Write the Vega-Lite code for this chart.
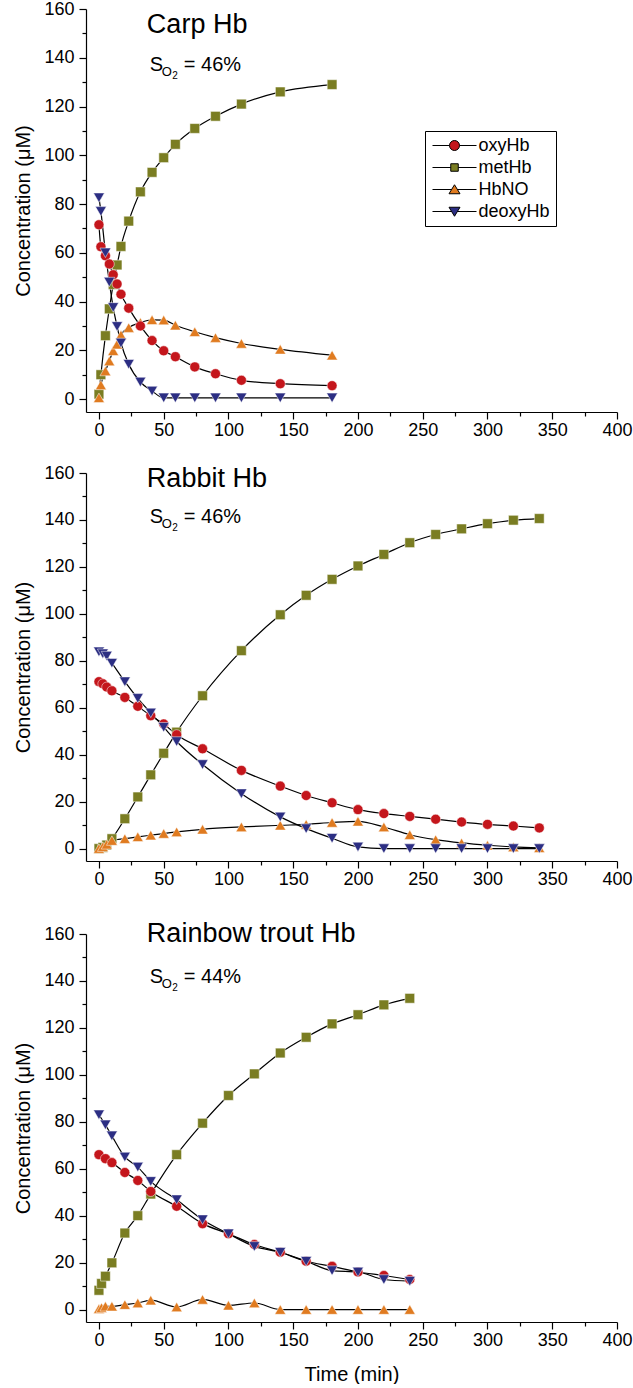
{
  "$schema": "https://vega.github.io/schema/vega-lite/v6.json",
  "padding": {"left": 13, "top": 0, "right": 0, "bottom": 0},
  "datasets": {
    "carp": [
      {"s":"oxyHb","t":0,"c":71.5},{"s":"oxyHb","t":1.5,"c":62.5},{"s":"oxyHb","t":5,"c":58.8},{"s":"oxyHb","t":8,"c":55.4},{"s":"oxyHb","t":11,"c":51},{"s":"oxyHb","t":14,"c":47.2},{"s":"oxyHb","t":17,"c":43},{"s":"oxyHb","t":23,"c":37.3},{"s":"oxyHb","t":32,"c":30},{"s":"oxyHb","t":41,"c":24},{"s":"oxyHb","t":50,"c":19.8},{"s":"oxyHb","t":59,"c":17.4},{"s":"oxyHb","t":74,"c":13.2},{"s":"oxyHb","t":90,"c":10.4},{"s":"oxyHb","t":110,"c":7.7},{"s":"oxyHb","t":140,"c":6.3},{"s":"oxyHb","t":180,"c":5.5},
      {"s":"metHb","t":0,"c":2},{"s":"metHb","t":1.5,"c":10},{"s":"metHb","t":5,"c":26},{"s":"metHb","t":8,"c":37},{"s":"metHb","t":11,"c":47},{"s":"metHb","t":14,"c":55},{"s":"metHb","t":17,"c":62.6},{"s":"metHb","t":23,"c":73},{"s":"metHb","t":32,"c":85},{"s":"metHb","t":41,"c":93},{"s":"metHb","t":50,"c":99},{"s":"metHb","t":59,"c":104.5},{"s":"metHb","t":74,"c":111},{"s":"metHb","t":90,"c":116},{"s":"metHb","t":110,"c":121},{"s":"metHb","t":140,"c":126},{"s":"metHb","t":180,"c":129},
      {"s":"HbNO","t":0,"c":0.5},{"s":"HbNO","t":1.5,"c":5.8},{"s":"HbNO","t":5,"c":11.5},{"s":"HbNO","t":8,"c":15.6},{"s":"HbNO","t":11,"c":19.8},{"s":"HbNO","t":14,"c":22.5},{"s":"HbNO","t":17,"c":26.3},{"s":"HbNO","t":23,"c":29.3},{"s":"HbNO","t":32,"c":31.4},{"s":"HbNO","t":41,"c":32.5},{"s":"HbNO","t":50,"c":32.4},{"s":"HbNO","t":59,"c":30.3},{"s":"HbNO","t":74,"c":27.6},{"s":"HbNO","t":90,"c":25.2},{"s":"HbNO","t":110,"c":22.8},{"s":"HbNO","t":140,"c":20.4},{"s":"HbNO","t":180,"c":18},
      {"s":"deoxyHb","t":0,"c":82.6},{"s":"deoxyHb","t":1.5,"c":77},{"s":"deoxyHb","t":5,"c":60},{"s":"deoxyHb","t":8,"c":48},{"s":"deoxyHb","t":11,"c":37.6},{"s":"deoxyHb","t":14,"c":29.8},{"s":"deoxyHb","t":17,"c":23},{"s":"deoxyHb","t":23,"c":14.3},{"s":"deoxyHb","t":32,"c":7},{"s":"deoxyHb","t":41,"c":3.3},{"s":"deoxyHb","t":50,"c":0.5},{"s":"deoxyHb","t":59,"c":0.5},{"s":"deoxyHb","t":74,"c":0.5},{"s":"deoxyHb","t":90,"c":0.5},{"s":"deoxyHb","t":110,"c":0.5},{"s":"deoxyHb","t":140,"c":0.5},{"s":"deoxyHb","t":180,"c":0.5}
    ],
    "rabbit": [
      {"s":"oxyHb","t":0,"c":71.1},{"s":"oxyHb","t":3,"c":70.2},{"s":"oxyHb","t":6,"c":68.8},{"s":"oxyHb","t":10,"c":67.2},{"s":"oxyHb","t":20,"c":64.4},{"s":"oxyHb","t":30,"c":60.6},{"s":"oxyHb","t":40,"c":56.6},{"s":"oxyHb","t":50,"c":53.1},{"s":"oxyHb","t":60,"c":48.5},{"s":"oxyHb","t":80,"c":42.5},{"s":"oxyHb","t":110,"c":33.3},{"s":"oxyHb","t":140,"c":26.6},{"s":"oxyHb","t":160,"c":22.6},{"s":"oxyHb","t":180,"c":19.5},{"s":"oxyHb","t":200,"c":16.6},{"s":"oxyHb","t":220,"c":14.9},{"s":"oxyHb","t":240,"c":13.7},{"s":"oxyHb","t":260,"c":12.5},{"s":"oxyHb","t":280,"c":11.3},{"s":"oxyHb","t":300,"c":10.3},{"s":"oxyHb","t":320,"c":9.6},{"s":"oxyHb","t":340,"c":8.8},
      {"s":"metHb","t":0,"c":0},{"s":"metHb","t":3,"c":0.5},{"s":"metHb","t":6,"c":1.5},{"s":"metHb","t":10,"c":4.2},{"s":"metHb","t":20,"c":12.7},{"s":"metHb","t":30,"c":22},{"s":"metHb","t":40,"c":31.4},{"s":"metHb","t":50,"c":40.6},{"s":"metHb","t":60,"c":49.6},{"s":"metHb","t":80,"c":65.1},{"s":"metHb","t":110,"c":84.3},{"s":"metHb","t":140,"c":99.6},{"s":"metHb","t":160,"c":107.9},{"s":"metHb","t":180,"c":114.7},{"s":"metHb","t":200,"c":120.4},{"s":"metHb","t":220,"c":125.3},{"s":"metHb","t":240,"c":130.3},{"s":"metHb","t":260,"c":133.8},{"s":"metHb","t":280,"c":136.2},{"s":"metHb","t":300,"c":138.4},{"s":"metHb","t":320,"c":139.9},{"s":"metHb","t":340,"c":140.6},
      {"s":"HbNO","t":0,"c":0},{"s":"HbNO","t":3,"c":0.8},{"s":"HbNO","t":6,"c":1.8},{"s":"HbNO","t":10,"c":3.4},{"s":"HbNO","t":20,"c":4.2},{"s":"HbNO","t":30,"c":5},{"s":"HbNO","t":40,"c":5.7},{"s":"HbNO","t":50,"c":6.4},{"s":"HbNO","t":60,"c":7.1},{"s":"HbNO","t":80,"c":8.2},{"s":"HbNO","t":110,"c":9.2},{"s":"HbNO","t":140,"c":9.9},{"s":"HbNO","t":160,"c":10.3},{"s":"HbNO","t":180,"c":11.1},{"s":"HbNO","t":200,"c":11.6},{"s":"HbNO","t":220,"c":9.2},{"s":"HbNO","t":240,"c":5.9},{"s":"HbNO","t":260,"c":3.8},{"s":"HbNO","t":280,"c":2.4},{"s":"HbNO","t":300,"c":1.4},{"s":"HbNO","t":320,"c":0.7},{"s":"HbNO","t":340,"c":0.3},
      {"s":"deoxyHb","t":0,"c":83.8},{"s":"deoxyHb","t":3,"c":83},{"s":"deoxyHb","t":6,"c":82},{"s":"deoxyHb","t":10,"c":79},{"s":"deoxyHb","t":20,"c":71.1},{"s":"deoxyHb","t":30,"c":64},{"s":"deoxyHb","t":40,"c":57.8},{"s":"deoxyHb","t":50,"c":51.7},{"s":"deoxyHb","t":60,"c":45.6},{"s":"deoxyHb","t":80,"c":35.8},{"s":"deoxyHb","t":110,"c":23.4},{"s":"deoxyHb","t":140,"c":13.5},{"s":"deoxyHb","t":160,"c":8.5},{"s":"deoxyHb","t":180,"c":4.4},{"s":"deoxyHb","t":200,"c":0.7},{"s":"deoxyHb","t":220,"c":0},{"s":"deoxyHb","t":240,"c":0},{"s":"deoxyHb","t":260,"c":0},{"s":"deoxyHb","t":280,"c":0},{"s":"deoxyHb","t":300,"c":0},{"s":"deoxyHb","t":320,"c":0},{"s":"deoxyHb","t":340,"c":0}
    ],
    "trout": [
      {"s":"oxyHb","t":0,"c":66},{"s":"oxyHb","t":5,"c":64.3},{"s":"oxyHb","t":10,"c":62.6},{"s":"oxyHb","t":20,"c":58.4},{"s":"oxyHb","t":30,"c":55},{"s":"oxyHb","t":40,"c":50.3},{"s":"oxyHb","t":60,"c":44},{"s":"oxyHb","t":80,"c":36.6},{"s":"oxyHb","t":100,"c":32.3},{"s":"oxyHb","t":120,"c":27.7},{"s":"oxyHb","t":140,"c":24.4},{"s":"oxyHb","t":160,"c":20.6},{"s":"oxyHb","t":180,"c":18.4},{"s":"oxyHb","t":200,"c":16},{"s":"oxyHb","t":220,"c":14.5},{"s":"oxyHb","t":240,"c":12.8},
      {"s":"metHb","t":0,"c":8.2},{"s":"metHb","t":2,"c":11.1},{"s":"metHb","t":5,"c":14.2},{"s":"metHb","t":10,"c":19.9},{"s":"metHb","t":20,"c":32.6},{"s":"metHb","t":30,"c":40},{"s":"metHb","t":40,"c":49.2},{"s":"metHb","t":60,"c":66},{"s":"metHb","t":80,"c":79.4},{"s":"metHb","t":100,"c":91.2},{"s":"metHb","t":120,"c":100.4},{"s":"metHb","t":140,"c":109.3},{"s":"metHb","t":160,"c":116},{"s":"metHb","t":180,"c":121.7},{"s":"metHb","t":200,"c":125.6},{"s":"metHb","t":220,"c":129.8},{"s":"metHb","t":240,"c":132.6},
      {"s":"HbNO","t":0,"c":0.3},{"s":"HbNO","t":2,"c":0.8},{"s":"HbNO","t":5,"c":1.4},{"s":"HbNO","t":10,"c":1.4},{"s":"HbNO","t":20,"c":2.1},{"s":"HbNO","t":30,"c":2.8},{"s":"HbNO","t":40,"c":4},{"s":"HbNO","t":60,"c":1.1},{"s":"HbNO","t":80,"c":4.3},{"s":"HbNO","t":100,"c":1.8},{"s":"HbNO","t":120,"c":2.8},{"s":"HbNO","t":140,"c":0},{"s":"HbNO","t":160,"c":0},{"s":"HbNO","t":180,"c":0},{"s":"HbNO","t":200,"c":0},{"s":"HbNO","t":220,"c":0},{"s":"HbNO","t":240,"c":0},
      {"s":"deoxyHb","t":0,"c":83},{"s":"deoxyHb","t":5,"c":78.7},{"s":"deoxyHb","t":10,"c":74},{"s":"deoxyHb","t":20,"c":65},{"s":"deoxyHb","t":30,"c":60.7},{"s":"deoxyHb","t":40,"c":54.6},{"s":"deoxyHb","t":60,"c":46.8},{"s":"deoxyHb","t":80,"c":38.3},{"s":"deoxyHb","t":100,"c":32.3},{"s":"deoxyHb","t":120,"c":26.9},{"s":"deoxyHb","t":140,"c":24.4},{"s":"deoxyHb","t":160,"c":20.6},{"s":"deoxyHb","t":180,"c":16.6},{"s":"deoxyHb","t":200,"c":16},{"s":"deoxyHb","t":220,"c":12.8},{"s":"deoxyHb","t":240,"c":12.1}
    ],
    "lab1": [{"title": "Carp Hb", "pct": "= 46%"}],
    "lab2": [{"title": "Rabbit Hb", "pct": "= 46%"}],
    "lab3": [{"title": "Rainbow trout Hb", "pct": "= 44%"}]
  },
  "config": {
    "view": {"stroke": null},
    "font": "Liberation Sans",
    "axis": {"grid": false, "domainColor": "#000", "tickColor": "#000", "labelColor": "#000", "titleColor": "#000", "labelFont": "Liberation Sans", "titleFont": "Liberation Sans", "labelFontSize": 18, "titleFontSize": 20, "titleFontWeight": "normal", "domainWidth": 1.2, "tickWidth": 1.2}
  },
  "spacing": 25,
  "vconcat": [
    {
      "width": 531, "height": 403,
      "layer": [
        {
          "data": {"name": "carp"},
          "encoding": {
            "x": {"field": "t", "type": "quantitative", "scale": {"domain": [-10, 400], "nice": false}, "axis": {"values": [0,50,100,150,200,250,300,350,400], "title": null, "tickSize": 7, "labelPadding": 2, "labelFlush": false}},
            "y": {"field": "c", "type": "quantitative", "scale": {"domain": [-5.3, 160], "nice": false, "zero": false}, "axis": {"values": [0,20,40,60,80,100,120,140,160], "title": "Concentration (μM)", "tickSize": 7, "labelPadding": 5, "titlePadding": 10}}
          },
          "layer": [
            {"mark": {"type": "line", "color": "#000", "strokeWidth": 1.2, "interpolate": "monotone"}, "encoding": {"detail": {"field": "s"}}},
            {"transform": [{"filter": "datum.s === 'metHb'"}], "mark": {"type": "point", "filled": true, "shape": "square", "size": 95, "fill": "#7a7d22", "stroke": "#fff", "strokeWidth": 0.5, "opacity": 1}},
            {"transform": [{"filter": "datum.s === 'HbNO'"}], "mark": {"type": "point", "filled": true, "shape": "triangle-up", "size": 120, "fill": "#e07b20", "stroke": "#fff", "strokeWidth": 0.5, "opacity": 1}},
            {"transform": [{"filter": "datum.s === 'oxyHb'"}], "mark": {"type": "point", "filled": true, "shape": "circle", "size": 100, "fill": "#c4161c", "stroke": "#fff", "strokeWidth": 0.5, "opacity": 1}},
            {"transform": [{"filter": "datum.s === 'deoxyHb'"}], "mark": {"type": "point", "filled": true, "shape": "triangle-down", "size": 120, "fill": "#2c2e83", "stroke": "#fff", "strokeWidth": 0.5, "opacity": 1}},
            {"transform": [{"filter": "false"}], "mark": {"type": "point", "filled": true, "opacity": 1, "stroke": "#000", "strokeWidth": 1},
             "encoding": {
               "color": {"field": "s", "type": "nominal", "scale": {"domain": ["oxyHb","metHb","HbNO","deoxyHb"], "range": ["#c4161c","#7a7d22","#e07b20","#2c2e83"]},
                 "legend": {"title": null, "orient": "none", "legendX": 339, "legendY": 122, "strokeColor": "#000", "padding": 5.5, "symbolSize": 100, "symbolOffset": 15, "labelOffset": 15, "labelFontSize": 18, "labelFont": "Liberation Sans", "labelColor": "#000", "rowPadding": 4, "symbolStrokeColor": "#000", "symbolStrokeWidth": 1}},
               "shape": {"field": "s", "type": "nominal", "scale": {"domain": ["oxyHb","metHb","HbNO","deoxyHb"], "range": [
                 "M-4.4,0H-1M1,0H4.4M-1,0A1,1,0,1,0,1,0A1,1,0,1,0,-1,0Z",
                 "M-4.4,0H-0.75M0.75,0H4.4M-0.75,-0.75H0.75V0.75H-0.75Z",
                 "M-4.4,0H-0.6M0.6,0H4.4M0,-0.95L1.1,0.85L-1.1,0.85Z",
                 "M-4.4,0H-0.6M0.6,0H4.4M0,0.95L1.1,-0.85L-1.1,-0.85Z"]}}
             }}
          ]
        },
        {
          "data": {"name": "lab1"},
          "layer": [
            {"mark": {"type": "text", "fontSize": 27, "align": "left", "baseline": "alphabetic", "color": "#000"}, "encoding": {"text": {"field": "title"}, "x": {"datum": 37, "type": "quantitative", "axis": null}, "y": {"datum": 150.1, "type": "quantitative", "axis": null}}},
            {"mark": {"type": "text", "text": "S", "fontSize": 20, "align": "left", "baseline": "alphabetic", "color": "#000"}, "encoding": {"x": {"datum": 39.3, "type": "quantitative", "axis": null}, "y": {"datum": 134.5, "type": "quantitative", "axis": null}}},
            {"mark": {"type": "text", "text": "O", "fontSize": 13, "align": "left", "baseline": "alphabetic", "dx": 12, "dy": 5, "color": "#000"}, "encoding": {"x": {"datum": 39.3, "type": "quantitative", "axis": null}, "y": {"datum": 134.5, "type": "quantitative", "axis": null}}},
            {"mark": {"type": "text", "text": "2", "fontSize": 10, "align": "left", "baseline": "alphabetic", "dx": 22.5, "dy": 8, "color": "#000"}, "encoding": {"x": {"datum": 39.3, "type": "quantitative", "axis": null}, "y": {"datum": 134.5, "type": "quantitative", "axis": null}}},
            {"mark": {"type": "text", "fontSize": 20, "align": "left", "baseline": "alphabetic", "dx": 34, "color": "#000"}, "encoding": {"text": {"field": "pct"}, "x": {"datum": 39.3, "type": "quantitative", "axis": null}, "y": {"datum": 134.5, "type": "quantitative", "axis": null}}}
          ]
        },
        {"data": {"name": "carp"}, "mark": {"type": "line", "opacity": 0}, "encoding": {
          "x": {"field": "t", "type": "quantitative", "scale": {"domain": [-10, 400], "nice": false}, "axis": {"orient": "bottom", "values": [25,75,125,175,225,275,325,375], "labels": false, "domain": false, "tickSize": 4, "title": null}},
          "y": {"field": "c", "type": "quantitative", "scale": {"domain": [-5.3, 160], "nice": false, "zero": false}, "axis": {"orient": "left", "values": [10,30,50,70,90,110,130,150], "labels": false, "domain": false, "tickSize": 4, "title": null}},
          "detail": {"field": "s"}}}
      ],
      "resolve": {"axis": {"x": "independent", "y": "independent"}}
    },
    {
      "spacing": 31,
      "vconcat": [
        {
          "width": 531, "height": 388,
          "layer": [
            {
              "data": {"name": "rabbit"},
              "encoding": {
                "x": {"field": "t", "type": "quantitative", "scale": {"domain": [-10, 400], "nice": false}, "axis": {"values": [0,50,100,150,200,250,300,350,400], "title": null, "tickSize": 7, "labelPadding": 2, "labelFlush": false}},
                "y": {"field": "c", "type": "quantitative", "scale": {"domain": [-5.3, 160], "nice": false, "zero": false}, "axis": {"values": [0,20,40,60,80,100,120,140,160], "title": "Concentration (μM)", "tickSize": 7, "labelPadding": 5, "titlePadding": 10}}
              },
              "layer": [
                {"mark": {"type": "line", "color": "#000", "strokeWidth": 1.2, "interpolate": "monotone"}, "encoding": {"detail": {"field": "s"}}},
                {"transform": [{"filter": "datum.s === 'metHb'"}], "mark": {"type": "point", "filled": true, "shape": "square", "size": 95, "fill": "#7a7d22", "stroke": "#fff", "strokeWidth": 0.5, "opacity": 1}},
                {"transform": [{"filter": "datum.s === 'HbNO'"}], "mark": {"type": "point", "filled": true, "shape": "triangle-up", "size": 120, "fill": "#e07b20", "stroke": "#fff", "strokeWidth": 0.5, "opacity": 1}},
                {"transform": [{"filter": "datum.s === 'oxyHb'"}], "mark": {"type": "point", "filled": true, "shape": "circle", "size": 100, "fill": "#c4161c", "stroke": "#fff", "strokeWidth": 0.5, "opacity": 1}},
                {"transform": [{"filter": "datum.s === 'deoxyHb'"}], "mark": {"type": "point", "filled": true, "shape": "triangle-down", "size": 120, "fill": "#2c2e83", "stroke": "#fff", "strokeWidth": 0.5, "opacity": 1}}
              ]
            },
            {
              "data": {"name": "lab2"},
              "layer": [
                {"mark": {"type": "text", "fontSize": 27, "align": "left", "baseline": "alphabetic", "color": "#000"}, "encoding": {"text": {"field": "title"}, "x": {"datum": 37, "type": "quantitative", "axis": null}, "y": {"datum": 154.2, "type": "quantitative", "axis": null}}},
                {"mark": {"type": "text", "text": "S", "fontSize": 20, "align": "left", "baseline": "alphabetic", "color": "#000"}, "encoding": {"x": {"datum": 39.3, "type": "quantitative", "axis": null}, "y": {"datum": 138.8, "type": "quantitative", "axis": null}}},
                {"mark": {"type": "text", "text": "O", "fontSize": 13, "align": "left", "baseline": "alphabetic", "dx": 12, "dy": 5, "color": "#000"}, "encoding": {"x": {"datum": 39.3, "type": "quantitative", "axis": null}, "y": {"datum": 138.8, "type": "quantitative", "axis": null}}},
                {"mark": {"type": "text", "text": "2", "fontSize": 10, "align": "left", "baseline": "alphabetic", "dx": 22.5, "dy": 8, "color": "#000"}, "encoding": {"x": {"datum": 39.3, "type": "quantitative", "axis": null}, "y": {"datum": 138.8, "type": "quantitative", "axis": null}}},
                {"mark": {"type": "text", "fontSize": 20, "align": "left", "baseline": "alphabetic", "dx": 34, "color": "#000"}, "encoding": {"text": {"field": "pct"}, "x": {"datum": 39.3, "type": "quantitative", "axis": null}, "y": {"datum": 138.8, "type": "quantitative", "axis": null}}}
              ]
            },
            {"data": {"name": "rabbit"}, "mark": {"type": "line", "opacity": 0}, "encoding": {
              "x": {"field": "t", "type": "quantitative", "scale": {"domain": [-10, 400], "nice": false}, "axis": {"orient": "bottom", "values": [25,75,125,175,225,275,325,375], "labels": false, "domain": false, "tickSize": 4, "title": null}},
              "y": {"field": "c", "type": "quantitative", "scale": {"domain": [-5.3, 160], "nice": false, "zero": false}, "axis": {"orient": "left", "values": [10,30,50,70,90,110,130,150], "labels": false, "domain": false, "tickSize": 4, "title": null}},
              "detail": {"field": "s"}}}
          ],
          "resolve": {"axis": {"x": "independent", "y": "independent"}}
        },
        {
          "width": 531, "height": 388,
          "layer": [
            {
              "data": {"name": "trout"},
              "encoding": {
                "x": {"field": "t", "type": "quantitative", "scale": {"domain": [-10, 400], "nice": false}, "axis": {"values": [0,50,100,150,200,250,300,350,400], "title": "Time (min)", "titleFontSize": 20, "titlePadding": 15, "tickSize": 7, "labelPadding": 2, "labelFlush": false}},
                "y": {"field": "c", "type": "quantitative", "scale": {"domain": [-5.3, 160], "nice": false, "zero": false}, "axis": {"values": [0,20,40,60,80,100,120,140,160], "title": "Concentration (μM)", "tickSize": 7, "labelPadding": 5, "titlePadding": 10}}
              },
              "layer": [
                {"mark": {"type": "line", "color": "#000", "strokeWidth": 1.2, "interpolate": "monotone"}, "encoding": {"detail": {"field": "s"}}},
                {"transform": [{"filter": "datum.s === 'metHb'"}], "mark": {"type": "point", "filled": true, "shape": "square", "size": 95, "fill": "#7a7d22", "stroke": "#fff", "strokeWidth": 0.5, "opacity": 1}},
                {"transform": [{"filter": "datum.s === 'HbNO'"}], "mark": {"type": "point", "filled": true, "shape": "triangle-up", "size": 120, "fill": "#e07b20", "stroke": "#fff", "strokeWidth": 0.5, "opacity": 1}},
                {"transform": [{"filter": "datum.s === 'oxyHb'"}], "mark": {"type": "point", "filled": true, "shape": "circle", "size": 100, "fill": "#c4161c", "stroke": "#fff", "strokeWidth": 0.5, "opacity": 1}},
                {"transform": [{"filter": "datum.s === 'deoxyHb'"}], "mark": {"type": "point", "filled": true, "shape": "triangle-down", "size": 120, "fill": "#2c2e83", "stroke": "#fff", "strokeWidth": 0.5, "opacity": 1}}
              ]
            },
            {
              "data": {"name": "lab3"},
              "layer": [
                {"mark": {"type": "text", "fontSize": 27, "align": "left", "baseline": "alphabetic", "color": "#000"}, "encoding": {"text": {"field": "title"}, "x": {"datum": 37, "type": "quantitative", "axis": null}, "y": {"datum": 156.6, "type": "quantitative", "axis": null}}},
                {"mark": {"type": "text", "text": "S", "fontSize": 20, "align": "left", "baseline": "alphabetic", "color": "#000"}, "encoding": {"x": {"datum": 39.3, "type": "quantitative", "axis": null}, "y": {"datum": 139, "type": "quantitative", "axis": null}}},
                {"mark": {"type": "text", "text": "O", "fontSize": 13, "align": "left", "baseline": "alphabetic", "dx": 12, "dy": 5, "color": "#000"}, "encoding": {"x": {"datum": 39.3, "type": "quantitative", "axis": null}, "y": {"datum": 139, "type": "quantitative", "axis": null}}},
                {"mark": {"type": "text", "text": "2", "fontSize": 10, "align": "left", "baseline": "alphabetic", "dx": 22.5, "dy": 8, "color": "#000"}, "encoding": {"x": {"datum": 39.3, "type": "quantitative", "axis": null}, "y": {"datum": 139, "type": "quantitative", "axis": null}}},
                {"mark": {"type": "text", "fontSize": 20, "align": "left", "baseline": "alphabetic", "dx": 34, "color": "#000"}, "encoding": {"text": {"field": "pct"}, "x": {"datum": 39.3, "type": "quantitative", "axis": null}, "y": {"datum": 139, "type": "quantitative", "axis": null}}}
              ]
            },
            {"data": {"name": "trout"}, "mark": {"type": "line", "opacity": 0}, "encoding": {
              "x": {"field": "t", "type": "quantitative", "scale": {"domain": [-10, 400], "nice": false}, "axis": {"orient": "bottom", "values": [25,75,125,175,225,275,325,375], "labels": false, "domain": false, "tickSize": 4, "title": null}},
              "y": {"field": "c", "type": "quantitative", "scale": {"domain": [-5.3, 160], "nice": false, "zero": false}, "axis": {"orient": "left", "values": [10,30,50,70,90,110,130,150], "labels": false, "domain": false, "tickSize": 4, "title": null}},
              "detail": {"field": "s"}}}
          ],
          "resolve": {"axis": {"x": "independent", "y": "independent"}}
        }
      ]
    }
  ]
}
